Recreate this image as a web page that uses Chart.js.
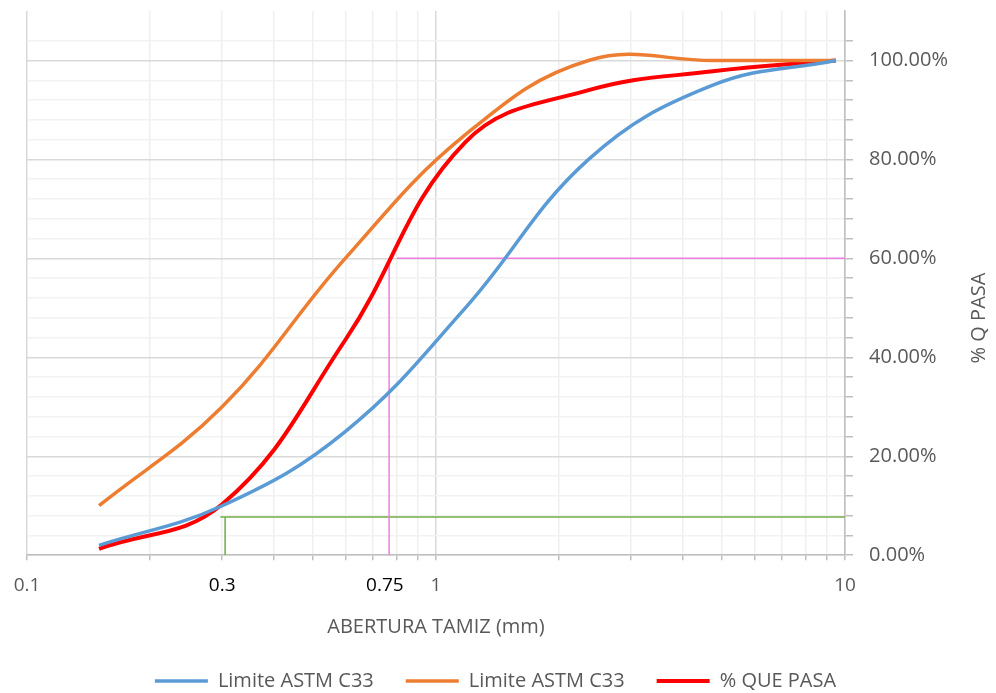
<!DOCTYPE html>
<html>
<head>
<meta charset="utf-8">
<script src="https://cdn.jsdelivr.net/npm/chart.js@4.4.1/dist/chart.umd.min.js"></script>
<style>
  html, body { margin: 0; padding: 0; background: #fff; }
  #wrap { width: 996px; height: 693px; }
</style>
</head>
<body>
<div id="wrap"><canvas id="granChart"></canvas></div>
<script>
// sieve openings (mm) and % passing
const sieveSizes = [0.15, 0.3, 0.6, 1.18, 2.36, 4.75, 9.5];
const lowerLimit = [2, 10, 25, 50, 80, 95, 100];
const upperLimit = [10, 30, 60, 85, 100, 100, 100];
const pctPasa = [1.3, 10.3, 43.5, 83.5, 94, 97.8, 100];

// D60 / D10 guide lines
const d60Vert = { x: [0.768, 0.768], y: [0, 60] };
const d60Horz = { x: [0.803, 10], y: [60, 60] };
const d10Vert = { x: [0.305, 0.305], y: [0, 7.7] };
const d10Horz = { x: [0.297, 10], y: [7.7, 7.7] };

// x axis ticks: grid positions plus the two marked sizes
const xGridTicks = [0.1, 0.2, 0.3, 0.4, 0.5, 0.6, 0.7, 0.8, 0.9,
  1, 2, 3, 4, 5, 6, 7, 8, 9, 10];
const xLabels = { 0.1: '0.1', 0.3: '0.3', 0.75: '0.75', 1: '1', 10: '10' };
const markedSizes = [0.3, 0.75];

const pts = (xs, ys) => xs.map((x, i) => ({ x: x, y: ys[i] }));
const same = (a, b) => Math.abs(a - b) < 1e-9;
const isDecade = v => [0.1, 1, 10].some(d => same(d, v));

const guide = (d, color) => ({
  data: pts(d.x, d.y),
  borderColor: color,
  borderWidth: 1.5,
  pointRadius: 0,
  tension: 0
});

// right axis title reads bottom-to-top, so draw it by hand
const yTitle = {
  id: 'yTitle',
  afterDraw(chart) {
    const c = chart.ctx;
    c.save();
    c.translate(979, 318);
    c.rotate(-Math.PI / 2);
    c.font = '20px "Open Sans"';
    c.fillStyle = '#595959';
    c.textAlign = 'center';
    c.textBaseline = 'middle';
    c.fillText('% Q PASA', 0, 0);
    c.restore();
  }
};

const ctx = document.getElementById('granChart').getContext('2d');
const granChart = new Chart(ctx, {
  type: 'line',
  data: {
    datasets: [
      {
        label: 'Limite ASTM C33',
        data: pts(sieveSizes, lowerLimit),
        borderColor: '#5B9BD5',
        backgroundColor: '#5B9BD5',
        borderWidth: 3.5,
        pointRadius: 0,
        tension: 0.4
      },
      {
        label: 'Limite ASTM C33',
        data: pts(sieveSizes, upperLimit),
        borderColor: '#ED7D31',
        backgroundColor: '#ED7D31',
        borderWidth: 3.5,
        pointRadius: 0,
        tension: 0.4
      },
      {
        label: '% QUE PASA',
        data: pts(sieveSizes, pctPasa),
        borderColor: '#FF0000',
        backgroundColor: '#FF0000',
        borderWidth: 4,
        pointRadius: 0,
        tension: 0.4
      },
      guide(d60Vert, '#F07CE2'),
      guide(d60Horz, '#F07CE2'),
      guide(d10Vert, '#70AD47'),
      guide(d10Horz, '#70AD47')
    ]
  },
  options: {
    responsive: true,
    maintainAspectRatio: false,
    animation: false,
    layout: { padding: { left: 27, right: 32, top: 11, bottom: -8 } },
    plugins: {
      tooltip: { enabled: false },
      legend: {
        position: 'bottom',
        labels: {
          usePointStyle: true,
          pointStyle: 'line',
          pointStyleWidth: 53,
          padding: 32,
          color: '#595959',
          font: { family: 'Open Sans', size: 20 },
          filter: item => item.datasetIndex < 3
        }
      }
    },
    scales: {
      x: {
        type: 'logarithmic',
        min: 0.1,
        max: 10,
        afterBuildTicks: scale => {
          scale.ticks = xGridTicks.concat([0.75]).sort((a, b) => a - b)
            .map(v => ({ value: v }));
        },
        afterFit: scale => {
          scale.paddingLeft = 0;
          scale.paddingRight = 0;
        },
        border: { color: '#BFBFBF', width: 1.5 },
        grid: {
          tickLength: 5,
          lineWidth: 1.5,
          color: c => {
            const v = c.tick ? c.tick.value : 0;
            if (same(v, 0.75)) return 'rgba(0,0,0,0)';
            return isDecade(v) ? '#D9D9D9' : '#EFEFEF';
          },
          tickColor: c => (c.tick && same(c.tick.value, 0.75)) ? 'rgba(0,0,0,0)' : '#BFBFBF'
        },
        ticks: {
          autoSkip: false,
          maxRotation: 0,
          padding: 14,
          font: { family: 'Open Sans', size: 19 },
          color: c => markedSizes.some(m => same(m, c.tick.value)) ? '#000000' : '#595959',
          callback: v => {
            for (const k in xLabels) {
              if (same(Number(k), v)) return xLabels[k];
            }
            return '';
          }
        },
        title: {
          display: true,
          text: 'ABERTURA TAMIZ (mm)',
          color: '#595959',
          font: { family: 'Open Sans', size: 20 },
          padding: { top: 4, bottom: 0 }
        }
      },
      y: {
        position: 'right',
        min: 0,
        max: 110,
        afterFit: scale => {
          scale.paddingTop = 0;
          scale.paddingBottom = 0;
        },
        border: { color: '#BFBFBF', width: 1.5 },
        grid: {
          tickLength: 8,
          lineWidth: 1.5,
          color: c => {
            const v = c.tick ? c.tick.value : 0;
            if (v > 108) return 'rgba(0,0,0,0)';
            return v % 20 === 0 ? '#D9D9D9' : '#F2F2F2';
          },
          tickColor: c => (c.tick && c.tick.value > 108) ? 'rgba(0,0,0,0)' : '#BFBFBF'
        },
        ticks: {
          stepSize: 4,
          autoSkip: false,
          padding: 16,
          font: { family: 'Open Sans', size: 20 },
          color: '#595959',
          callback: v => (v % 20 === 0 && v <= 100) ? v.toFixed(2) + '%' : ''
        }
      }
    }
  },
  plugins: [yTitle]
});
</script>
</body>
</html>
